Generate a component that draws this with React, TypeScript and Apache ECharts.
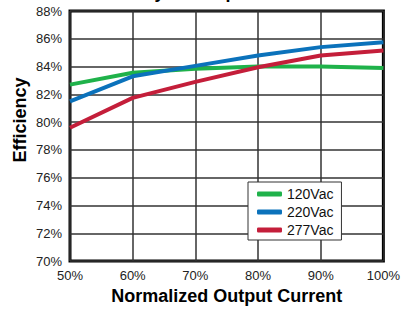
import React, { useEffect, useRef } from "react";
import * as echarts from "echarts";

const xValues = [50, 60, 70, 80, 90, 100];
const seriesNames = ["120Vac", "220Vac", "277Vac"];
const eff120 = [82.7, 83.55, 83.85, 84.0, 84.0, 83.9];
const eff220 = [81.5, 83.3, 84.05, 84.8, 85.4, 85.75];
const eff277 = [79.6, 81.75, 82.9, 83.95, 84.8, 85.15];
const colors = ["#1fb24a", "#0b72bb", "#c41e3a"];
const titleText = "Efficiency vs Output Current";
const xTitle = "Normalized Output Current";
const yTitle = "Efficiency";

const FONT = "'Liberation Sans', Arial, sans-serif";

export default function App() {
  const ref = useRef<HTMLDivElement>(null);
  useEffect(() => {
    document.body.style.margin = "0";
    const chart = echarts.init(ref.current!, null, { renderer: "svg" });
    const all = [eff120, eff220, eff277];
    chart.setOption({
      animation: false,
      backgroundColor: "#ffffff",
      title: {
        text: titleText,
        left: "center",
        top: -17,
        padding: 0,
        textStyle: { fontFamily: FONT, fontSize: 18, fontWeight: "bold", color: "#000" },
      },
      graphic: [
        {
          type: "text",
          x: 20,
          y: 120,
          rotation: Math.PI / 2,
          style: {
            text: yTitle,
            align: "center",
            verticalAlign: "middle",
            fontFamily: FONT,
            fontSize: 18,
            fontWeight: "bold",
            fill: "#000",
          },
        },
      ],
      grid: {
        left: 70,
        right: 15.5,
        top: 11,
        bottom: 46,
        show: true,
        borderColor: "#000",
        borderWidth: 3,
        backgroundColor: "transparent",
        containLabel: false,
      },
      legend: {
        orient: "vertical",
        left: 248,
        top: 182,
        padding: [5, 8, 3, 9],
        itemGap: 4,
        itemWidth: 25,
        itemHeight: 5,
        icon: "roundRect",
        backgroundColor: "#ffffff",
        borderColor: "#333",
        borderWidth: 1,
        borderRadius: 0,
        textStyle: { fontFamily: FONT, fontSize: 14, color: "#111", lineHeight: 14 },
        data: seriesNames,
      },
      xAxis: {
        type: "value",
        min: 50,
        max: 100,
        interval: 10,
        name: xTitle,
        nameLocation: "middle",
        nameGap: 23,
        nameTextStyle: { fontFamily: FONT, fontSize: 18, fontWeight: "bold", color: "#000" },
        axisLine: { show: false },
        axisTick: { show: false },
        axisLabel: { formatter: "{value}%", fontFamily: FONT, fontSize: 13, color: "#222", margin: 8 },
        splitLine: { show: true, lineStyle: { color: "#333", width: 1.5 } },
      },
      yAxis: {
        type: "value",
        min: 70,
        max: 88,
        interval: 2,
        axisLine: { show: false },
        axisTick: { show: false },
        axisLabel: { formatter: "{value}%", fontFamily: FONT, fontSize: 13, color: "#222", margin: 8 },
        splitLine: { show: true, lineStyle: { color: "#333", width: 1.5 } },
      },
      series: seriesNames.map((name, i) => ({
        name,
        type: "line",
        data: xValues.map((x, j) => [x, all[i][j]]),
        showSymbol: false,
        symbol: "none",
        lineStyle: { color: colors[i], width: 4 },
        itemStyle: { color: colors[i] },
        z: 3 + i,
      })),
    });
    return () => chart.dispose();
  }, []);
  return <div ref={ref} style={{ width: 403, height: 310 }} />;
}
